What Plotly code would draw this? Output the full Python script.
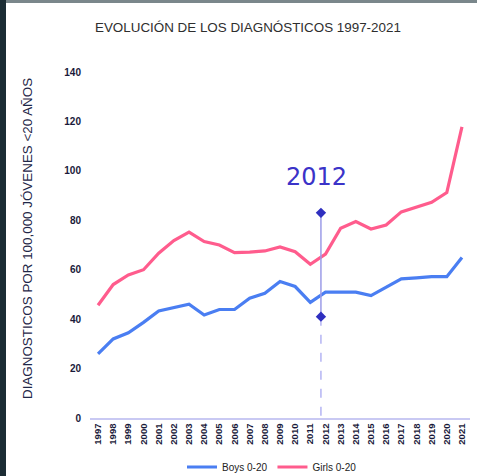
import plotly.graph_objects as go

years = list(range(1997, 2022))
boys = [25.9, 32.0, 34.5, 38.7, 43.3, 44.8, 46.0, 41.7, 43.9, 43.9, 48.5, 50.5, 55.2,
        53.2, 46.8, 50.9, 50.8, 50.9, 49.5, 52.9, 56.3, 56.7, 57.2, 57.2, 64.9]
girls = [45.6, 54.0, 57.9, 60.0, 66.7, 71.8, 75.2, 71.4, 70.0, 66.9, 67.1, 67.6, 69.2,
         67.3, 62.2, 66.3, 76.8, 79.5, 76.5, 78.1, 83.4, 85.3, 87.3, 91.2, 117.8]
series_names = ["Boys 0-20", "Girls 0-20"]
y_ticks = [0, 20, 40, 60, 80, 100, 120, 140]
marker_label = "2012"
marker_x = 2011.7
marker_top = 83
marker_bottom = 41

W, H = 477, 476
L, R, T, B = 90, 7, 72, 58
pw, ph = W - L - R, H - T - B

def px_x(p):
    return (p - L) / pw

def px_y(p):
    return (H - B - p) / ph

fig = go.Figure()
fig.add_trace(go.Scatter(x=years, y=boys, mode="lines", name=series_names[0],
                         line=dict(color="#4a7ef2", width=3.2)))
fig.add_trace(go.Scatter(x=years, y=girls, mode="lines", name=series_names[1],
                         line=dict(color="#ff5c8d", width=3.2)))

# marker line
fig.add_trace(go.Scatter(x=[marker_x, marker_x], y=[marker_bottom, 0], mode="lines",
                         line=dict(color="#a9a9f2", width=1.3, dash="dash"),
                         showlegend=False, hoverinfo="skip"))
fig.add_trace(go.Scatter(x=[marker_x, marker_x], y=[marker_top, marker_bottom], mode="lines+markers",
                         line=dict(color="#9c9ce8", width=1.5),
                         marker=dict(symbol="diamond", size=8, color="#2f2fbf"),
                         showlegend=False, hoverinfo="skip"))

fig.add_annotation(x=marker_x, y=97.7, xshift=-4, text=marker_label, showarrow=False,
                   font=dict(family="DejaVu Sans", size=24, color="#3b33c8"),
                   xanchor="center", yanchor="middle")

fig.add_annotation(xref="paper", yref="paper", x=px_x(28), y=px_y(239),
                   text="DIAGNOSTICOS POR 100,000 JÓVENES <20 AÑOS", textangle=-90,
                   showarrow=False, xanchor="center", yanchor="middle",
                   font=dict(family="Liberation Sans", size=13.4, color="#1f2748"))

fig.add_annotation(xref="paper", yref="paper", x=px_x(248), y=px_y(27),
                   text="EVOLUCIÓN DE LOS DIAGNÓSTICOS 1997-2021", showarrow=False,
                   xanchor="center", yanchor="middle",
                   font=dict(family="Liberation Sans", size=13.4, color="#2e2e2e"))

# dark edges of the screenshot
fig.add_shape(type="rect", xref="paper", yref="paper", x0=px_x(0), x1=px_x(6),
              y0=px_y(H), y1=px_y(0), fillcolor="#1b2c34", line_width=0, layer="above")
fig.add_shape(type="rect", xref="paper", yref="paper", x0=px_x(6), x1=px_x(W),
              y0=px_y(3), y1=px_y(0), fillcolor="#7a878b", line_width=0, layer="above")

fig.update_layout(
    width=W, height=H,
    margin=dict(l=L, r=R, t=T, b=B, autoexpand=False),
    paper_bgcolor="white", plot_bgcolor="white",
    showlegend=True,
    legend=dict(orientation="h", xref="container", yref="container",
                x=272 / W, y=1 - 467 / H, xanchor="center", yanchor="middle",
                font=dict(family="Liberation Sans", size=10, color="#222222"),
                itemwidth=30, tracegroupgap=0, bgcolor="rgba(0,0,0,0)"),
)
fig.update_xaxes(range=[1996.47, 2021.53], tickvals=years, ticktext=[str(y) for y in years],
                 tickangle=-90, showgrid=False, zeroline=False, automargin=False,
                 showline=True, linecolor="#c9c9f3", linewidth=1.5,
                 tickfont=dict(family="Liberation Sans", size=9.5, color="#1a1a3a", weight="bold"),
                 ticks="", fixedrange=True)
fig.update_yaxes(range=[0, 140], tickvals=y_ticks, showgrid=False, zeroline=False,
                 showline=False, ticklabelstandoff=8, automargin=False,
                 tickfont=dict(family="Liberation Sans", size=10, color="#1a1a3a", weight="bold"),
                 fixedrange=True)

fig.write_html("out.html", config={"displayModeBar": False},
               post_script="document.body.style.margin='0';document.body.style.overflow='hidden';")
